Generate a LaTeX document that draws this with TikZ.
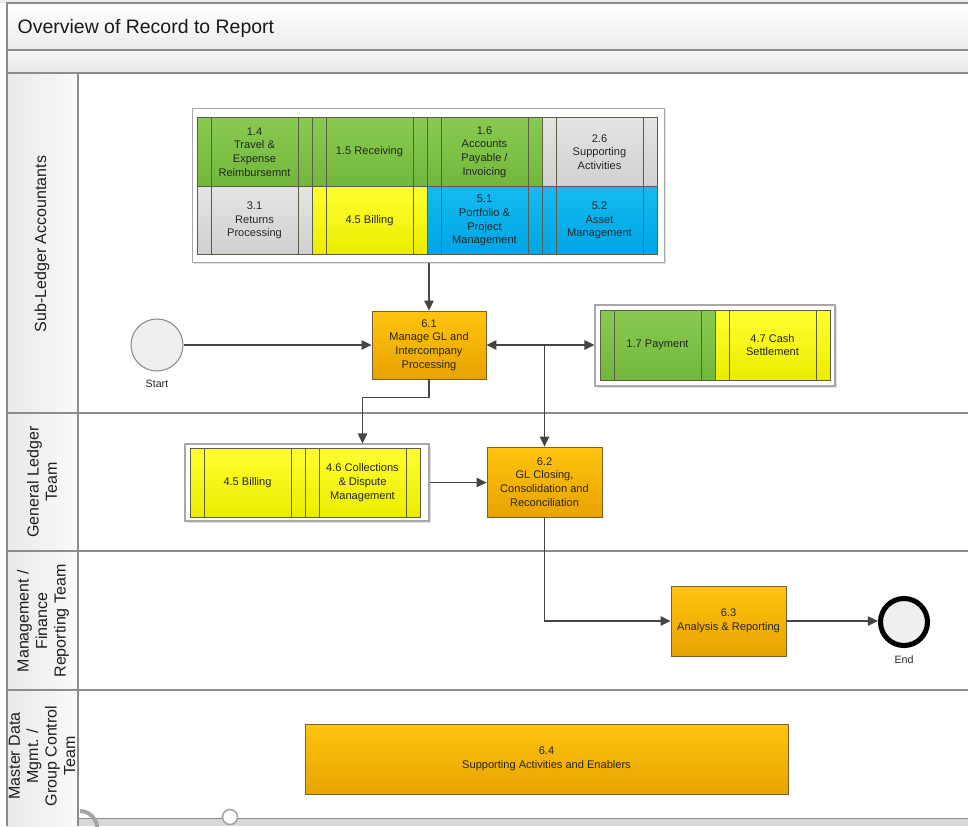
\documentclass[tikz,border=0pt]{standalone}
\usepackage{fontspec}
\setmainfont{Liberation Sans}
\usetikzlibrary{arrows.meta,shadows,calc,positioning}

\definecolor{greenT}{HTML}{88CA50}
\definecolor{greenB}{HTML}{72B73C}
\definecolor{yellowT}{HTML}{FFFF30}
\definecolor{yellowB}{HTML}{ECEC00}
\definecolor{grayT}{HTML}{E4E4E4}
\definecolor{grayB}{HTML}{D0D0D0}
\definecolor{blueT}{HTML}{14BAF3}
\definecolor{blueB}{HTML}{00A5E2}
\definecolor{orangeT}{HTML}{FFC40F}
\definecolor{orangeB}{HTML}{E8A300}
\definecolor{cellline}{HTML}{5E5E46}
\definecolor{procline}{HTML}{7A6230}
\definecolor{arrowc}{HTML}{454545}
\definecolor{laneline}{HTML}{8C8C8C}
\definecolor{groupline}{HTML}{A8A8A8}
\definecolor{boxtext}{HTML}{262626}
\definecolor{barbot}{HTML}{ECECEC}
\definecolor{bartwoT}{HTML}{F7F7F7}
\definecolor{bartwoB}{HTML}{E6E6E6}
\definecolor{headL}{HTML}{E9E9E9}
\definecolor{headR}{HTML}{FAFAFA}
\definecolor{bottombar}{HTML}{D8D8D8}
\definecolor{ringgray}{HTML}{A6A6A6}
\definecolor{startfill}{HTML}{EFEFEF}

\newcommand\cellfont{\fontsize{8.3}{10.3}\selectfont}
\newcommand\lanefont{\fontsize{12}{13.8}\selectfont}
\newcommand\evfont{\fontsize{8}{9.5}\selectfont}

\tikzset{
  lanerule/.style={draw=laneline, line width=0.8pt},
  groupbox/.style={draw=groupline, line width=0.8pt, fill=white, inner sep=0pt,
    drop shadow={opacity=0.25, shadow xshift=1.2pt, shadow yshift=-1.2pt}},
  cellbox/.style={draw=cellline, line width=0.5pt, inner sep=0pt,
    minimum width=115*0.75pt, minimum height=68.5*0.75pt,
    align=center, font=\cellfont, text=boxtext,
    path picture={
      \draw[cellline, line width=0.5pt]
        ($(path picture bounding box.north west)+(14,0)$) --
        ($(path picture bounding box.south west)+(14,0)$)
        ($(path picture bounding box.north east)+(-14,0)$) --
        ($(path picture bounding box.south east)+(-14,0)$);}},
  greencell/.style={cellbox, top color=greenT, bottom color=greenB},
  yellowcell/.style={cellbox, top color=yellowT, bottom color=yellowB},
  graycell/.style={cellbox, top color=grayT, bottom color=grayB},
  bluecell/.style={cellbox, top color=blueT, bottom color=blueB},
  procbox/.style={draw=procline, line width=0.6pt, top color=orangeT,
    bottom color=orangeB, inner sep=0pt, minimum width=115*0.75pt,
    minimum height=70*0.75pt, align=center, font=\cellfont, text=boxtext,
    drop shadow={opacity=0.2, shadow xshift=1pt, shadow yshift=-1pt}},
  lanelabel/.style={rotate=90, align=center, font=\lanefont, text=black!88},
  conn/.style={draw=arrowc, line width=1.1pt,
    -{Triangle[length=7.5pt, width=7pt]}},
  conntwo/.style={draw=arrowc, line width=1.1pt,
    {Triangle[length=7.5pt, width=7pt]}-{Triangle[length=7.5pt, width=7pt]}},
}

\begin{document}
\begin{tikzpicture}[x=0.75pt, y=-0.75pt]
\useasboundingbox (0,0) rectangle (968,826);
\fill[white] (0,0) rectangle (968,826);
\fill[barbot] (0,0) rectangle (968,3);

% title bar and sub-bar
\shade[top color=white, bottom color=barbot] (7,3) rectangle (968,50);
\shade[top color=bartwoT, bottom color=bartwoB] (7,50) rectangle (968,73);
\node[anchor=west, font=\fontsize{14.6}{17}\selectfont, text=black!90]
  (title) at (13,28) {Overview of Record to Report};

% lane header column
\shade[left color=headL, right color=headR] (7,73) rectangle (78,826);

% bottom scroll bar with its round handles
\fill[bottombar] (78,818) rectangle (968,826);
\draw[laneline, line width=0.6pt] (78,818) -- (968,818);
\draw[ringgray, line width=3pt] (80,811) arc[start angle=-90, end angle=12, radius=17];
\draw[ringgray, line width=1.2pt, fill=white] (230,817) circle[radius=7.5];

% frame and lane separators
\draw[lanerule] (968,3) -- (7,3) -- (7,826);
\draw[lanerule] (7,50) -- (968,50);
\draw[lanerule] (7,73) -- (968,73);
\draw[lanerule] (78,73) -- (78,826);
\foreach \yy in {413,551,690} \draw[lanerule] (7,\yy) -- (968,\yy);

% lane titles
\node[lanelabel] (laneA) at (42,244) {Sub-Ledger Accountants};
\node[lanelabel] (laneB) at (42,482) {General Ledger\\Team};
\node[lanelabel] (laneC) at (43,621) {Management /\\Finance\\Reporting Team};
\node[lanelabel] (laneD) at (42,756) {Master Data\\Mgmt. /\\Group Control\\Team};

% sub-ledger process group
\node[groupbox, minimum width=472*0.75pt, minimum height=154*0.75pt] (grpA) at (428.5,185.5) {};
\node[greencell] (c14) at (254.5,152) {1.4\\Travel \&\\Expense\\Reimbursemnt};
\node[greencell] (c15) at (369.5,152) {1.5 Receiving};
\node[greencell] (c16) at (484.5,152) {1.6\\Accounts\\Payable /\\Invoicing};
\node[graycell] (c26) at (599.5,152) {2.6\\Supporting\\Activities};
\node[graycell] (c31) at (254.5,220.5) {3.1\\Returns\\Processing};
\node[yellowcell] (c45a) at (369.5,220.5) {4.5 Billing};
\node[bluecell] (c51) at (484.5,220.5) {5.1\\Portfolio \&\\Project\\Management};
\node[bluecell] (c52) at (599.5,220.5) {5.2\\Asset\\Management};

% payment group
\node[groupbox, minimum width=240*0.75pt, minimum height=81*0.75pt] (grpB) at (715,345.5) {};
\node[greencell, minimum height=70*0.75pt] (c17) at (657.5,345) {1.7 Payment};
\node[yellowcell, minimum height=70*0.75pt] (c47) at (772.5,345) {4.7 Cash\\Settlement};

% billing and collections group
\node[groupbox, minimum width=244*0.75pt, minimum height=77*0.75pt] (grpC) at (307,482.5) {};
\node[yellowcell, minimum height=69*0.75pt] (c45b) at (247.5,482.5) {4.5 Billing};
\node[yellowcell, minimum height=69*0.75pt] (c46) at (362.5,482.5) {4.6 Collections\\\& Dispute\\Management};

% core processes
\node[procbox, minimum width=114*0.75pt, minimum height=68*0.75pt] (p61) at (429,345)
  {6.1\\Manage GL and\\Intercompany\\Processing};
\node[procbox] (p62) at (544.5,482) {6.2\\GL Closing,\\Consolidation and\\Reconciliation};
\node[procbox] (p63) at (728.5,621) {6.3\\Analysis \& Reporting};
\node[procbox, minimum width=483*0.75pt] (p64) at (546.5,759) {6.4\\Supporting Activities and Enablers};

% events
\node[circle, draw=laneline, line width=0.8pt, fill=startfill, minimum size=52*0.75pt, inner sep=0pt]
  (startev) at (157,345) {};
\node[below=2.5pt of startev, font=\evfont, text=black!85] (startlbl) {Start};
\node[circle, draw=black, line width=3.8pt, fill=startfill, minimum size=47*0.75pt, inner sep=0pt]
  (endev) at (904,622) {};
\node[below=2pt of endev, font=\evfont, text=black!85] (endlbl) {End};

% flows
\draw[conn] (p61.north |- grpA.south) -- (p61.north);
\draw[conn] (startev.east) -- (p61.west);
\draw[conntwo] (p61.east) -- (p61.east -| grpB.west);
\coordinate (split) at (p62.north |- p61.east);
\draw[conn] (split) -- (p62.north);
\draw[conn] (p61.south) -- ++(0,18) -| (c46.north |- grpC.north);
\draw[conn] (grpC.east) -- (grpC.east -| p62.west);
\draw[conn] (p62.south) |- (p63.west);
\draw[conn] (p63.east) -- (p63.east -| endev.west);
\end{tikzpicture}
\end{document}
